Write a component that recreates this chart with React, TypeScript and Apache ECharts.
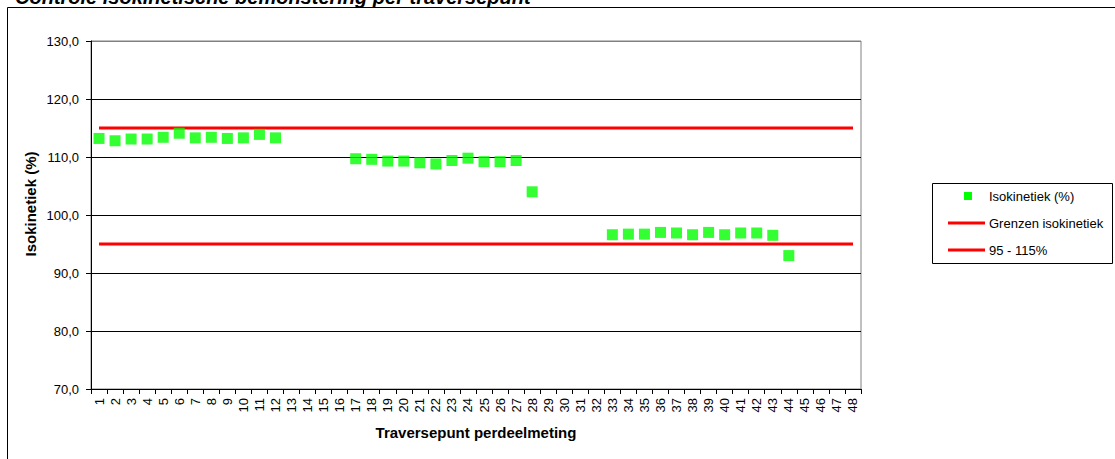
import React, { useEffect, useRef } from "react";
import * as echarts from "echarts";

const FONT = "'Liberation Sans', Arial, Helvetica, sans-serif";

const categories = [
  "1", "2", "3", "4", "5", "6", "7", "8", "9", "10", "11", "12",
  "13", "14", "15", "16", "17", "18", "19", "20", "21", "22", "23", "24",
  "25", "26", "27", "28", "29", "30", "31", "32", "33", "34", "35", "36",
  "37", "38", "39", "40", "41", "42", "43", "44", "45", "46", "47", "48",
];

const isokinetiek: (number | null)[] = [
  113.2, 112.8, 113.1, 113.1, 113.4, 114.1, 113.3, 113.4, 113.2, 113.3, 113.9, 113.3,
  null, null, null, null, 109.7, 109.6, 109.3, 109.3, 109.0, 108.8, 109.4, 109.8,
  109.2, 109.2, 109.4, 104.0, null, null, null, null, 96.6, 96.7, 96.7, 97.0,
  96.9, 96.6, 97.0, 96.6, 96.9, 96.9, 96.5, 93.0, null, null, null, null,
];

const bovengrens = [
  115, 115, 115, 115, 115, 115, 115, 115, 115, 115, 115, 115,
  115, 115, 115, 115, 115, 115, 115, 115, 115, 115, 115, 115,
  115, 115, 115, 115, 115, 115, 115, 115, 115, 115, 115, 115,
  115, 115, 115, 115, 115, 115, 115, 115, 115, 115, 115, 115,
];

const ondergrens = [
  95, 95, 95, 95, 95, 95, 95, 95, 95, 95, 95, 95,
  95, 95, 95, 95, 95, 95, 95, 95, 95, 95, 95, 95,
  95, 95, 95, 95, 95, 95, 95, 95, 95, 95, 95, 95,
  95, 95, 95, 95, 95, 95, 95, 95, 95, 95, 95, 95,
];

const seriesNames = ["Isokinetiek (%)", "Grenzen isokinetiek", "95 - 115%"];
const title = "Controle isokinetische bemonstering per traversepunt";
const xName = "Traversepunt perdeelmeting";
const yName = "Isokinetiek (%)";

export default function App() {
  const ref = useRef<HTMLDivElement>(null);

  useEffect(() => {
    if (!ref.current) return;
    const chart = echarts.init(ref.current, null, { renderer: "svg" });
    chart.setOption({
      animation: false,
      backgroundColor: "#ffffff",
      grid: {
        left: 91,
        right: 254,
        top: 41,
        bottom: 70,
        show: true,
        borderColor: "#808080",
        borderWidth: 1,
        backgroundColor: "transparent",
      },
      xAxis: {
        type: "category",
        data: categories,
        boundaryGap: true,
        name: xName,
        nameLocation: "middle",
        nameGap: 36,
        nameTextStyle: { fontFamily: FONT, fontSize: 15, fontWeight: "bold", color: "#000" },
        axisLine: { show: true, lineStyle: { color: "#000", width: 1 } },
        axisTick: { show: true, inside: false, length: 5, lineStyle: { color: "#000" } },
        axisLabel: {
          interval: 0,
          rotate: 90,
          margin: 9,
          fontFamily: FONT,
          fontSize: 13,
          color: "#000",
        },
        splitLine: { show: false },
      },
      yAxis: {
        type: "value",
        min: 70,
        max: 130,
        interval: 10,
        axisLine: { show: true, lineStyle: { color: "#000", width: 1 } },
        axisTick: { show: true, inside: false, length: 5, lineStyle: { color: "#000" } },
        axisLabel: {
          margin: 12,
          fontFamily: FONT,
          fontSize: 13,
          color: "#000",
          formatter: (v: number) => v.toFixed(1).replace(".", ","),
        },
        splitLine: {
          show: true,
          lineStyle: {
            color: ["#000", "#000", "#000", "#000", "#000", "#000", "#808080"],
            width: 1,
          },
        },
      },
      series: [
        {
          name: seriesNames[0],
          type: "scatter",
          data: isokinetiek,
          symbol: "rect",
          symbolSize: 11,
          itemStyle: { color: "#00ff00" },
          z: 5,
        },
        {
          name: seriesNames[1],
          type: "line",
          data: bovengrens,
          symbol: "none",
          showSymbol: false,
          lineStyle: { color: "#ff0000", width: 3 },
          z: 3,
        },
        {
          name: seriesNames[2],
          type: "line",
          data: ondergrens,
          symbol: "none",
          showSymbol: false,
          lineStyle: { color: "#ff0000", width: 3 },
          z: 3,
        },
      ],
      graphic: [
        {
          type: "rect",
          shape: { x: 7.5, y: 7.5, width: 1200, height: 600 },
          style: { fill: "none", stroke: "#000", lineWidth: 1 },
          silent: true,
          z: 0,
        },
        {
          type: "text",
          x: 15,
          y: -3,
          style: {
            text: title,
            font: `italic bold 20px ${FONT}`,
            fill: "#000",
            align: "left",
            verticalAlign: "middle",
          },
          z: 10,
        },
        {
          type: "text",
          x: 30,
          y: 204,
          rotation: Math.PI / 2,
          style: {
            text: yName,
            font: `bold 15px ${FONT}`,
            fill: "#000",
            align: "center",
            verticalAlign: "middle",
          },
          z: 10,
        },
        {
          type: "rect",
          shape: { x: 932.5, y: 183.5, width: 180, height: 80 },
          style: { fill: "#fff", stroke: "#000", lineWidth: 1 },
          z: 10,
        },
        {
          type: "rect",
          shape: { x: 964, y: 192, width: 8, height: 8 },
          style: { fill: "#00ff00" },
          z: 11,
        },
        {
          type: "text",
          x: 989,
          y: 196,
          style: { text: seriesNames[0], font: `13px ${FONT}`, fill: "#000", verticalAlign: "middle" },
          z: 11,
        },
        {
          type: "line",
          shape: { x1: 948, y1: 223, x2: 985, y2: 223 },
          style: { stroke: "#ff0000", lineWidth: 3 },
          z: 11,
        },
        {
          type: "text",
          x: 989,
          y: 223,
          style: { text: seriesNames[1], font: `13px ${FONT}`, fill: "#000", verticalAlign: "middle" },
          z: 11,
        },
        {
          type: "line",
          shape: { x1: 948, y1: 250, x2: 985, y2: 250 },
          style: { stroke: "#ff0000", lineWidth: 3 },
          z: 11,
        },
        {
          type: "text",
          x: 989,
          y: 250,
          style: { text: seriesNames[2], font: `13px ${FONT}`, fill: "#000", verticalAlign: "middle" },
          z: 11,
        },
      ],
    });
    return () => chart.dispose();
  }, []);

  return (
    <div
      ref={ref}
      style={{ position: "absolute", left: 0, top: 0, width: 1115, height: 459 }}
    />
  );
}
